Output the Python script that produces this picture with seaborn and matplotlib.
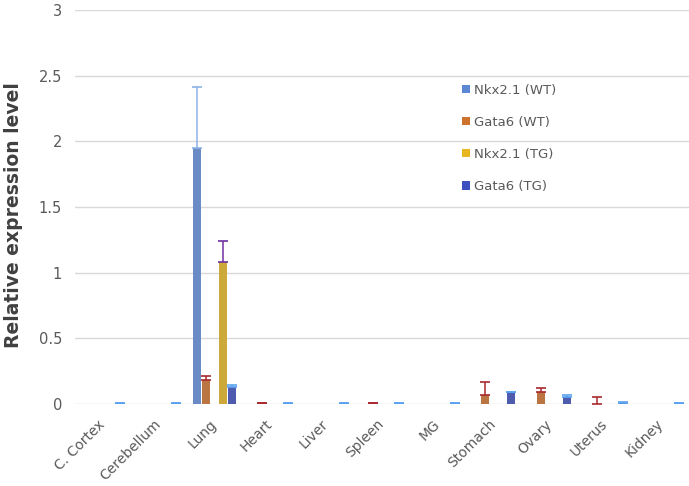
import pandas as pd
import matplotlib
matplotlib.use('Agg')
import matplotlib.pyplot as plt
from matplotlib.patches import Patch
import seaborn as sns

# Valores
tissues = ['C. Cortex', 'Cerebellum', 'Lung', 'Heart', 'Liver', 'Spleen',
           'MG', 'Stomach', 'Ovary', 'Uterus', 'Kidney']

nkx_wt = [0, 0, 1.95, 0, 0, 0, 0, 0, 0, 0, 0]
nkx_wt_err = [0, 0, 0.46, 0, 0, 0, 0, 0, 0, 0, 0]

gata6_wt = [0, 0, 0.18, 0.004, 0, 0.004, 0, 0.065, 0.09, 0.003, 0]
gata6_wt_err = [0, 0, 0.03, 0.003, 0, 0.003, 0, 0.10, 0.03, 0.05, 0]

nkx_tg = [0, 0, 1.08, 0, 0, 0, 0, 0, 0, 0, 0]
nkx_tg_err = [0, 0, 0.16, 0, 0, 0, 0, 0, 0, 0, 0]

gata6_tg = [0.004, 0.004, 0.13, 0.004, 0.004, 0.004, 0.004, 0.09, 0.05, 0.005, 0.004]
gata6_tg_err = [0.003, 0.003, 0.015, 0.003, 0.003, 0.003, 0.003, 0.005, 0.02, 0.01, 0.003]

series = ['Nkx2.1 (WT)', 'Gata6 (WT)', 'Nkx2.1 (TG)', 'Gata6 (TG)']
values = [nkx_wt, gata6_wt, nkx_tg, gata6_tg]
errors = [nkx_wt_err, gata6_wt_err, nkx_tg_err, gata6_tg_err]

bar_colors = ['#5B87D5', '#CF722E', '#E6B520', '#3E4FBF']
err_colors = ['#8DB3E8', '#A8282E', '#7030A0', '#5BA3F0']

# slot vazio entre as séries (como no Excel original)
blank = ' '
hue_order = [series[0], series[1], blank, series[2], series[3]]
palette = dict(zip(series, bar_colors))
palette[blank] = '#FFFFFF'

rows = []
for s, vals in zip(series, values):
    for t, v in zip(tissues, vals):
        rows.append({'tissue': t, 'serie': s, 'valor': v})
df = pd.DataFrame(rows)

sns.set_style('white')
plt.rcParams['font.family'] = ['DejaVu Sans']

fig = plt.figure(figsize=(6.89, 4.86), dpi=100)
ax = fig.add_axes([0.109, 0.1687, 0.891, 0.8107])

sns.barplot(data=df, x='tissue', y='valor', hue='serie', order=tissues,
            hue_order=hue_order, palette=palette, width=0.78, gap=0.1,
            errorbar=None, legend=False, linewidth=0, ax=ax)

# barras de erro (só para cima), posicionadas pelas barras desenhadas
conts = [c for c in ax.containers if len(c.patches) > 0]
for cont, errs, ec in zip(conts, errors, err_colors):
    xs, ys, es = [], [], []
    for patch, e in zip(cont.patches, errs):
        h = patch.get_height()
        if h == 0 and e == 0:
            continue
        xs.append(patch.get_x() + patch.get_width() / 2)
        ys.append(h)
        es.append(e)
    ax.errorbar(xs, ys, yerr=[[0] * len(es), es], fmt='none', ecolor=ec,
                elinewidth=1.1, capsize=3.4, capthick=1.2, zorder=3)

ax.set_ylim(0, 3)
ax.set_xlim(-0.5, len(tissues) - 0.5)
ax.set_yticks([0, 0.5, 1, 1.5, 2, 2.5, 3])
ax.set_yticklabels(['0', '0.5', '1', '1.5', '2', '2.5', '3'])
ax.yaxis.grid(True, color='#D9D9D9', linewidth=1.0)
ax.set_axisbelow(True)
for sp in ax.spines.values():
    sp.set_visible(False)

ax.tick_params(axis='y', length=0, pad=9.5, labelsize=10.5, labelcolor='#595959')
ax.tick_params(axis='x', length=0, pad=13, labelsize=10, labelcolor='#595959')
for lab in ax.get_xticklabels():
    lab.set_rotation(45)
    lab.set_ha('right')
    lab.set_va('center')
    lab.set_rotation_mode('anchor')

ax.set_xlabel('')
ax.set_ylabel('Relative expression level', fontsize=13.5, fontweight='bold',
              color='#404040')
ax.yaxis.set_label_coords(-0.085, 0.48)

handles = [Patch(facecolor=c, edgecolor='none') for c in bar_colors]
ax.legend(handles, series, loc='upper left', bbox_to_anchor=(0.62, 0.83),
          frameon=False, fontsize=9.5, labelcolor='#595959',
          handlelength=0.6, handleheight=0.6, handletextpad=0.25,
          labelspacing=1.45, borderpad=0)

fig.savefig('out.png', dpi=100)
